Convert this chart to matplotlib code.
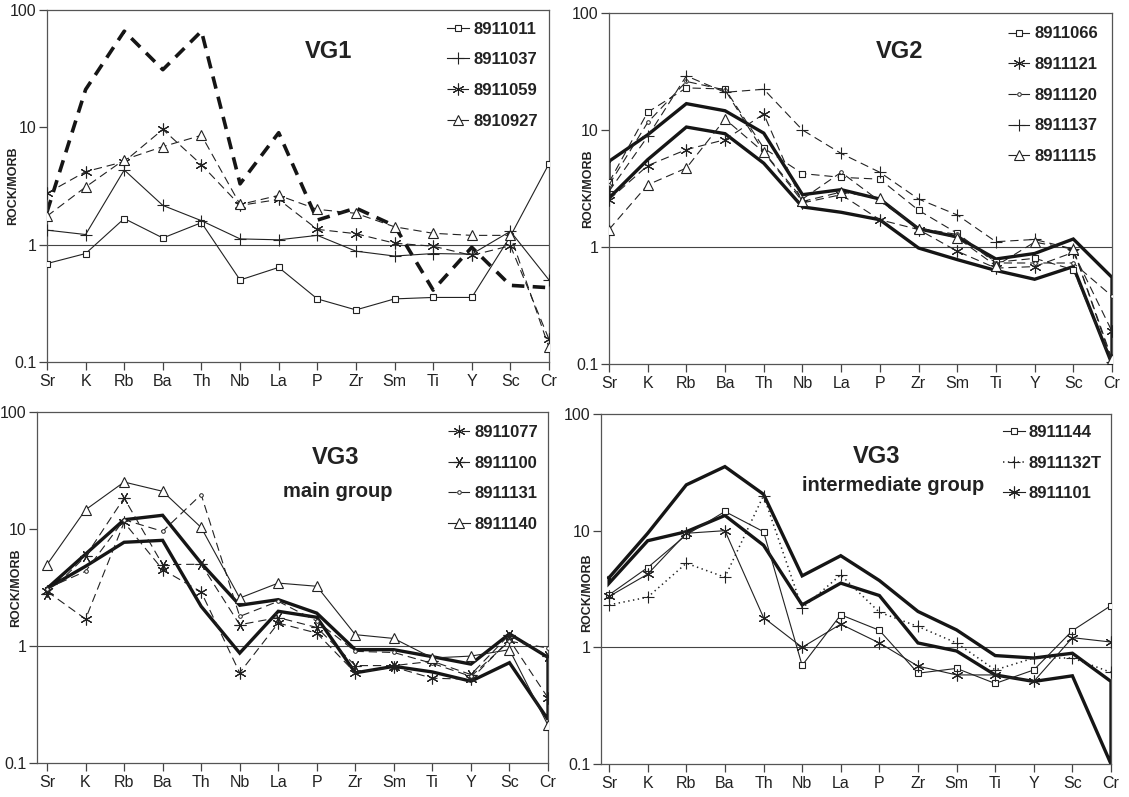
import matplotlib
matplotlib.use("Agg")
import matplotlib.pyplot as plt
from matplotlib.ticker import NullLocator

plt.rcParams['font.family'] = ['Liberation Sans', 'DejaVu Sans']
plt.rcParams['lines.scale_dashes'] = False

elements = ['Sr', 'K', 'Rb', 'Ba', 'Th', 'Nb', 'La', 'P', 'Zr', 'Sm', 'Ti', 'Y', 'Sc', 'Cr']

# ---- VG1 ----
vg1_8911011 = [0.69, 0.84, 1.67, 1.14, 1.54, 0.50, 0.64, 0.345, 0.278, 0.345, 0.355, 0.355, 1.18, 4.9]
vg1_8911037 = [1.33, 1.22, 4.33, 2.16, 1.60, 1.12, 1.10, 1.20, 0.88, 0.80, 0.84, 0.83, 1.30, 0.50]
vg1_8911059 = [2.74, 4.19, 5.1, 9.6, 4.8, 2.16, 2.43, 1.35, 1.24, 1.03, 0.97, 0.81, 0.98, 0.156]
vg1_8910927 = [1.75, 3.1, 5.3, 6.85, 8.55, 2.2, 2.63, 2.0, 1.85, 1.42, 1.25, 1.20, 1.20, 0.133]
vg1_reference = [1.9, 21, 66, 31, 66, 3.3, 9.0, 1.62, 2.05, 1.45, 0.41, 0.95, 0.45, 0.43]

# ---- VG2 ----
vg2_8911066 = [3.57, 14.2, 22.9, 22.4, 7.0, 4.24, 3.94, 3.8, 2.06, 1.31, 0.74, 0.80, 0.64, 0.10]
vg2_8911121 = [2.54, 4.96, 6.8, 8.27, 13.7, 2.38, 2.8, 1.71, 1.41, 0.92, 0.66, 0.68, 0.90, 0.19]
vg2_8911120 = [3.4, 11.6, 26.0, 22.0, 6.5, 2.57, 4.35, 2.46, 1.45, 1.28, 0.73, 0.73, 0.73, 0.38]
vg2_8911137 = [2.99, 8.8, 29.0, 21.0, 22.3, 10.0, 6.3, 4.35, 2.57, 1.88, 1.11, 1.16, 0.96, 0.105]
vg2_8911115 = [1.41, 3.4, 4.73, 12.4, 6.45, 2.45, 2.95, 2.62, 1.43, 1.20, 0.69, 1.10, 0.96, 0.11]
vg2_field_upper = [5.4, 9.1, 16.8, 14.6, 9.4, 2.8, 3.09, 2.57, 1.43, 1.22, 0.79, 0.88, 1.17, 0.55]
vg2_field_lower = [2.62, 5.58, 10.6, 9.3, 5.2, 2.2, 1.98, 1.71, 0.98, 0.78, 0.63, 0.53, 0.68, 0.10]

# ---- VG3 main group ----
vg3m_8911077 = [2.93, 1.70, 11.4, 4.5, 2.9, 0.59, 1.57, 1.29, 0.59, 0.66, 0.53, 0.52, 1.13, 0.36]
vg3m_8911100 = [2.78, 5.84, 18.4, 4.96, 5.0, 1.52, 1.75, 1.44, 0.68, 0.68, 0.74, 0.57, 1.25, 0.82]
vg3m_8911131 = [3.1, 4.35, 12.0, 9.55, 19.7, 1.79, 2.41, 1.63, 0.90, 0.88, 0.71, 0.55, 1.10, 0.96]
vg3m_8911140 = [4.96, 14.6, 25.2, 21.0, 10.3, 2.57, 3.45, 3.24, 1.25, 1.16, 0.79, 0.82, 0.93, 0.21]
vg3m_field_upper = [3.1, 6.1, 12.0, 13.1, 5.1, 2.23, 2.49, 1.91, 0.93, 0.93, 0.81, 0.70, 1.27, 0.80]
vg3m_field_lower = [3.1, 4.8, 7.7, 8.0, 2.18, 0.87, 1.98, 1.76, 0.59, 0.67, 0.60, 0.50, 0.72, 0.235]

# ---- VG3 intermediate group ----
vg3i_8911144 = [2.82, 4.83, 9.2, 14.6, 9.8, 0.70, 1.9, 1.40, 0.60, 0.66, 0.49, 0.64, 1.39, 2.28]
vg3i_8911132T = [2.31, 2.69, 5.26, 3.99, 20.0, 2.17, 4.18, 2.0, 1.51, 1.09, 0.64, 0.81, 0.81, 0.61]
vg3i_8911101 = [2.73, 4.24, 9.5, 10.0, 1.80, 1.0, 1.58, 1.09, 0.69, 0.58, 0.58, 0.51, 1.21, 1.11]
vg3i_field_upper = [3.96, 9.5, 24.7, 35.4, 20.5, 4.1, 6.1, 3.74, 2.03, 1.41, 0.85, 0.81, 0.89, 0.51]
vg3i_field_lower = [3.55, 8.2, 9.8, 13.5, 7.5, 2.31, 3.55, 2.78, 1.09, 0.93, 0.58, 0.51, 0.57, 0.10]

INK = '#222222'
ASTER = (6, 2, 0)
ASTER_ROT = (6, 2, 90)

solid = dict(linestyle='-', lw=0.8)
dashed = dict(linestyle=(0, (6, 3.5)), lw=0.8)
dotted = dict(linestyle=(0, (1, 2.5)), lw=1.1)

sq = dict(marker='s', ms=4.6, mfc='white', mew=0.8)
tri = dict(marker='^', ms=6.5, mfc='white', mew=0.8)
plus = dict(marker='+', ms=9, mew=0.8)
star = dict(marker=ASTER, ms=8.5, mew=0.8)
star_rot = dict(marker=ASTER_ROT, ms=8.5, mew=0.8)
dot = dict(marker='o', ms=2.6, mfc='white', mew=0.7)

fig = plt.figure(figsize=(11.29, 7.97), dpi=100)
W, H = 1129.0, 797.0


def make_axes(left, right, top, bottom):
    return fig.add_axes([left / W, 1 - bottom / H, (right - left) / W, (bottom - top) / H])


def style_axes(ax, xleft, ylabel_x, ylabel_y=0.5):
    ax.set_yscale('log')
    ax.set_ylim(0.1, 100)
    ax.set_xlim(xleft, len(elements) - 1)
    ax.set_yticks([0.1, 1, 10, 100])
    ax.set_yticklabels(['0.1', '1', '10', '100'])
    ax.yaxis.set_minor_locator(NullLocator())
    ax.set_xticks(range(len(elements)))
    ax.set_xticklabels(elements)
    ax.tick_params(direction='out', length=5.5, width=0.9, color='#444444',
                   labelcolor=INK, labelsize=11.5)
    ax.tick_params(axis='y', pad=2)
    ax.tick_params(axis='x', pad=3)
    for s in ax.spines.values():
        s.set_color('#555555')
        s.set_linewidth(0.9)
    ax.axhline(1, color='#444444', lw=0.8, zorder=1)
    ax.text(ylabel_x, ylabel_y, 'ROCK/MORB', transform=ax.transAxes, rotation=90,
            ha='center', va='center', fontsize=9, fontweight='bold', color=INK)


def series(ax, values, label, line, marker):
    ax.plot(range(len(elements)), values, color=INK, label=label, zorder=3,
            **line, **marker)


def field(ax, upper, lower):
    xs = list(range(len(elements))) + list(range(len(elements)))[::-1] + [0]
    ys = list(upper) + list(lower)[::-1] + [upper[0]]
    ax.plot(xs, ys, color='#151515', lw=2.4, solid_joinstyle='miter', zorder=2)


def legend(ax, x, y):
    ax.legend(loc='upper right', bbox_to_anchor=(x, y), frameon=False,
              prop={'weight': 'bold', 'size': 12}, labelcolor=INK,
              handlelength=1.3, handletextpad=0.25, labelspacing=0.94,
              borderpad=0, borderaxespad=0, numpoints=1)


def title(ax, x, y, text, size=17):
    ax.text(x, y, text, transform=ax.transAxes, ha='center', va='center',
            fontsize=size, fontweight='bold', color=INK)


# VG1
ax1 = make_axes(47, 549, 10, 362)
style_axes(ax1, 0, -0.068)
series(ax1, vg1_8911011, '8911011', solid, sq)
series(ax1, vg1_8911037, '8911037', solid, plus)
series(ax1, vg1_8911059, '8911059', dashed, star)
series(ax1, vg1_8910927, '8910927', dashed, tri)
ax1.plot(range(len(elements)), vg1_reference, color='#151515', lw=2.6,
         linestyle=(0, (9, 6)), zorder=2)
legend(ax1, 0.978, 0.967)
title(ax1, 0.56, 0.883, 'VG1')

# VG2
ax2 = make_axes(609, 1112, 13, 364)
style_axes(ax2, 0, -0.042)
field(ax2, vg2_field_upper, vg2_field_lower)
series(ax2, vg2_8911066, '8911066', dashed, sq)
series(ax2, vg2_8911121, '8911121', dashed, star)
series(ax2, vg2_8911120, '8911120', dashed, dot)
series(ax2, vg2_8911137, '8911137', dashed, plus)
series(ax2, vg2_8911115, '8911115', dashed, tri)
legend(ax2, 0.972, 0.962)
title(ax2, 0.577, 0.89, 'VG2')

# VG3 main group
ax3 = make_axes(37, 548, 412, 763)
style_axes(ax3, -0.26, -0.041)
field(ax3, vg3m_field_upper, vg3m_field_lower)
series(ax3, vg3m_8911077, '8911077', dashed, star)
series(ax3, vg3m_8911100, '8911100', dashed, star_rot)
series(ax3, vg3m_8911131, '8911131', dashed, dot)
series(ax3, vg3m_8911140, '8911140', solid, tri)
legend(ax3, 0.98, 0.963)
title(ax3, 0.584, 0.869, 'VG3')
title(ax3, 0.588, 0.774, 'main group', size=14.5)

# VG3 intermediate group
ax4 = make_axes(601, 1111, 414, 764)
style_axes(ax4, -0.21, -0.027, 0.49)
field(ax4, vg3i_field_upper, vg3i_field_lower)
series(ax4, vg3i_8911144, '8911144', solid, sq)
series(ax4, vg3i_8911132T, '8911132T', dotted, plus)
series(ax4, vg3i_8911101, '8911101', solid, star)
legend(ax4, 0.982, 0.969)
title(ax4, 0.541, 0.878, 'VG3')
title(ax4, 0.573, 0.797, 'intermediate group', size=14.5)

fig.savefig('out.png', dpi=100, facecolor='white')
